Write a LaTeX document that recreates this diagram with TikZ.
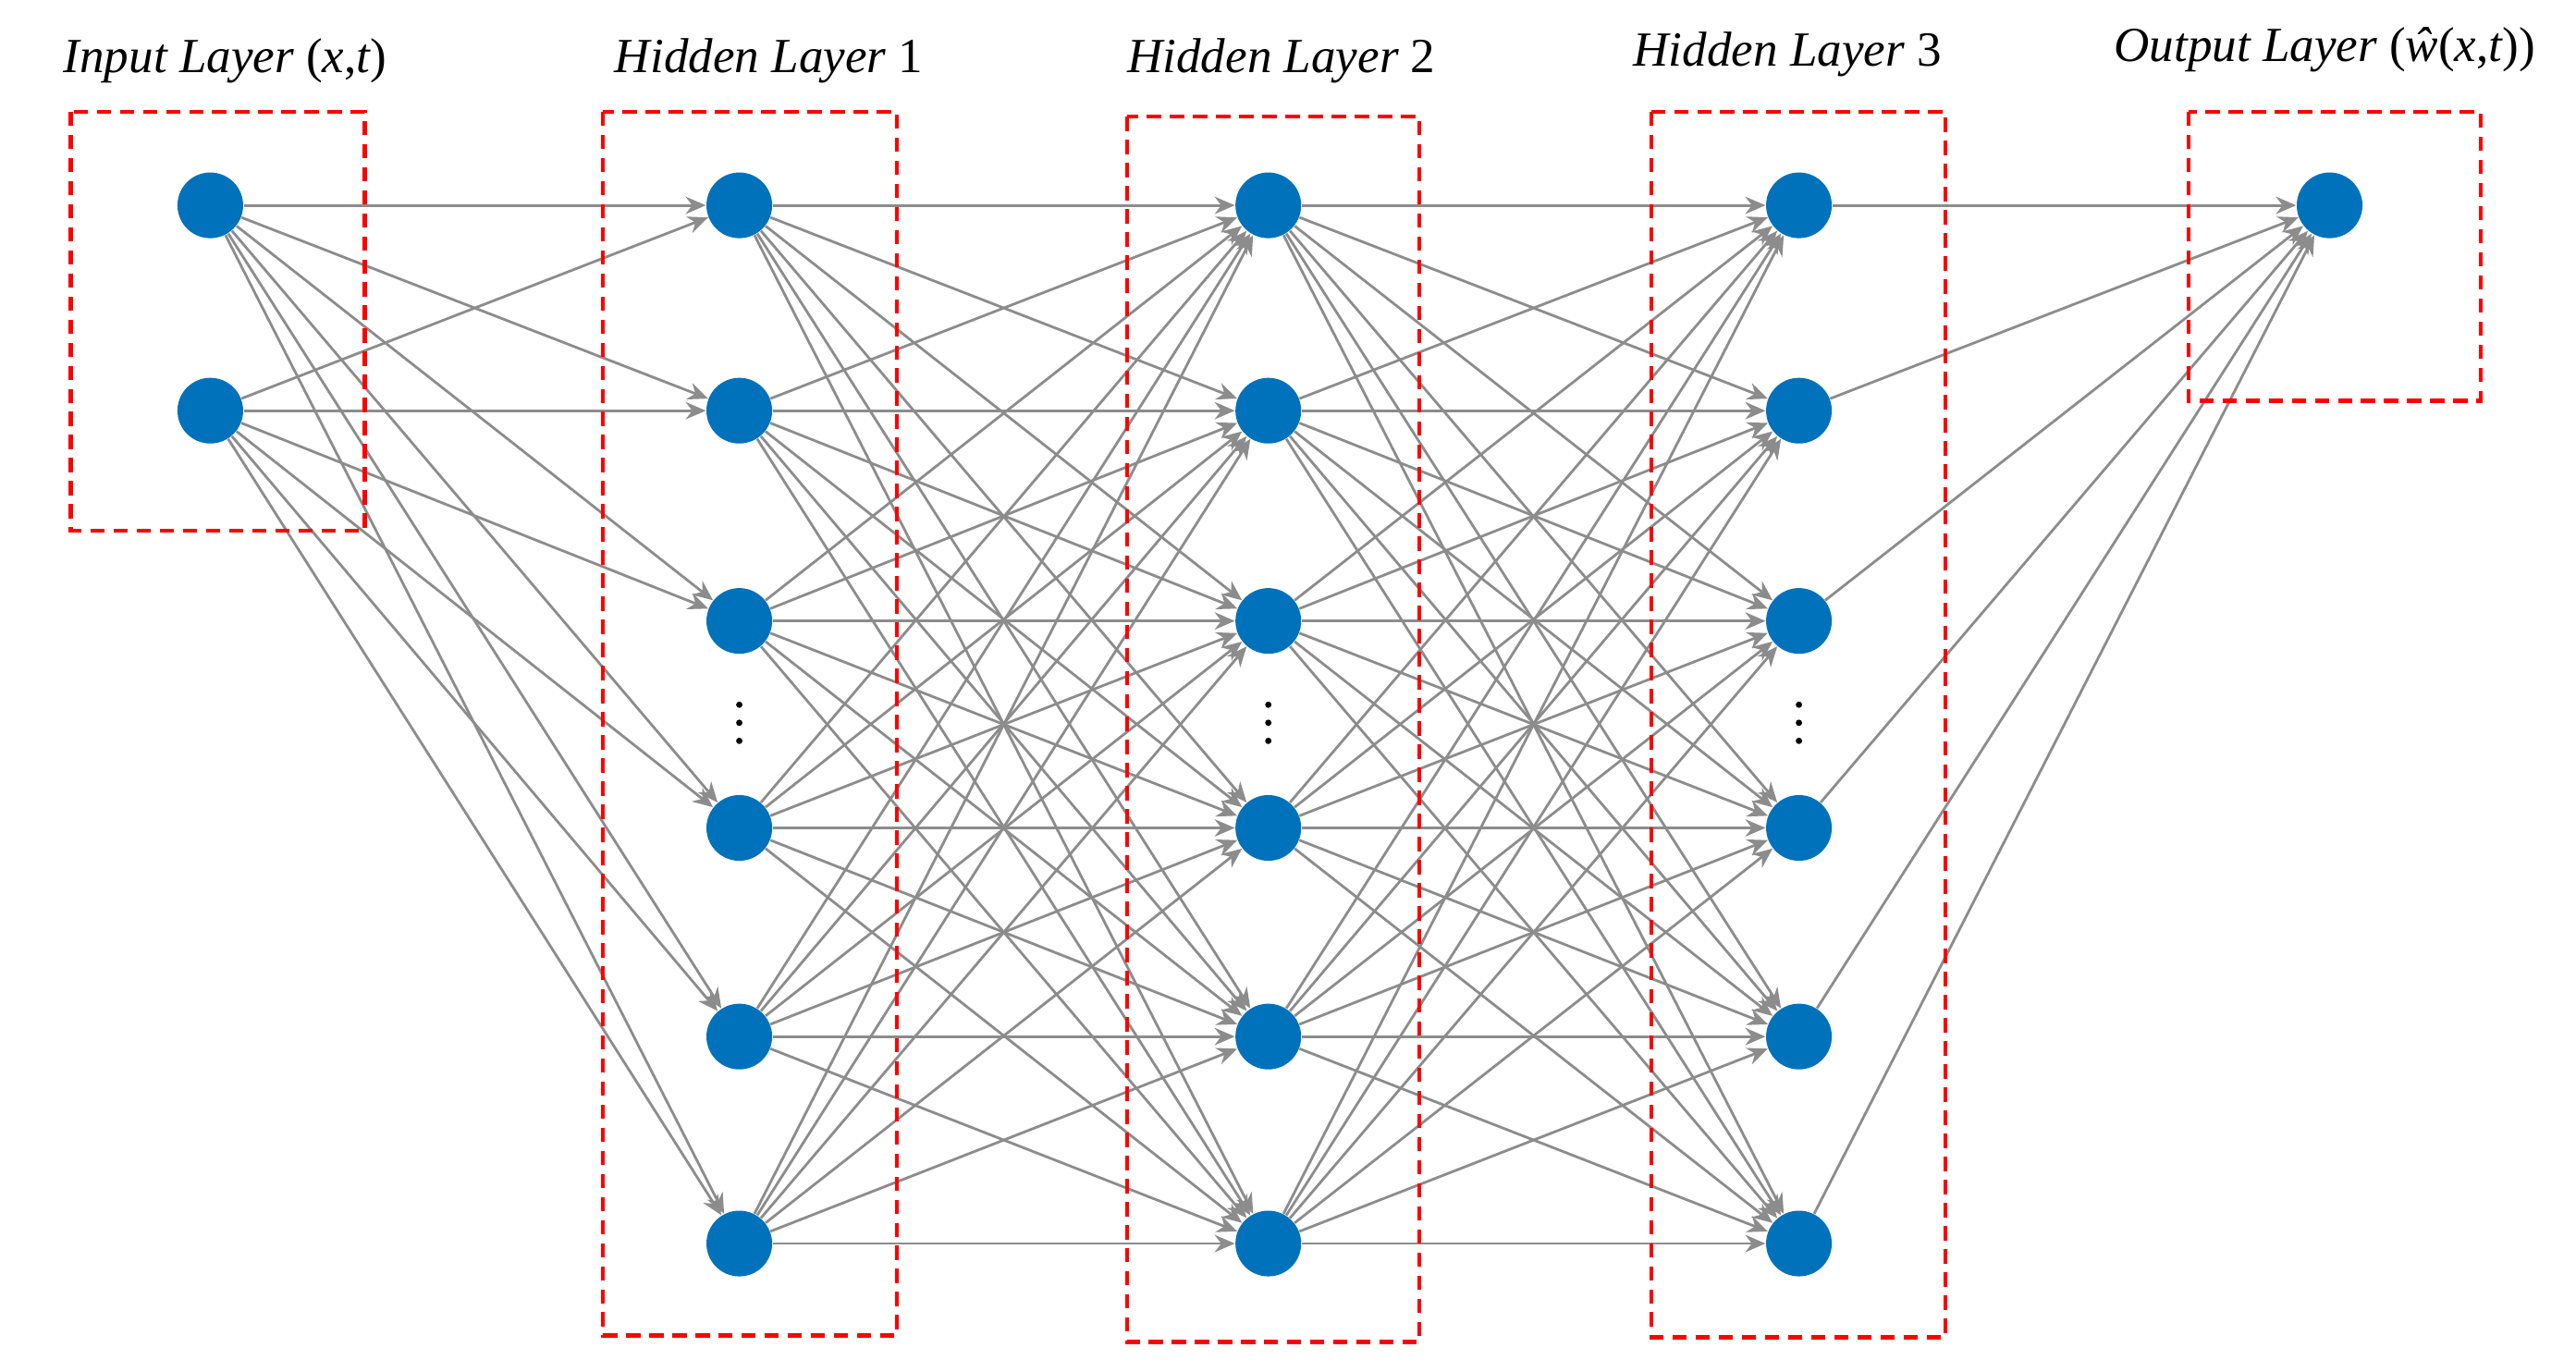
\documentclass[tikz,border=0pt]{standalone}
\usepackage{fontspec}
\setmainfont{Liberation Serif}[ItalicFont={Liberation Serif Italic},BoldFont={Liberation Serif Bold}]
\usetikzlibrary{arrows.meta}
\begin{document}
\begin{tikzpicture}[x=0.02cm,y=-0.02cm,
  neuron/.style={circle,fill={rgb,255:red,0;green,114;blue,187},minimum size=0.8cm,inner sep=0pt},
  conn/.style={draw={rgb,255:red,140;green,140;blue,140},line width=0.9pt,-{Stealth[length=7pt,width=6pt]}},
  box/.style={draw=red,dashed,line width=1.4pt,dash pattern=on 5pt off 3pt},
  lab/.style={font=\fontsize{17}{20}\selectfont\itshape}]
\useasboundingbox (0,0) rectangle (1568,835);
\def\ys{125,250,378,504,631,757}
\node[neuron] (i1) at (128,125) {};
\node[neuron] (i2) at (128,250) {};
\foreach \l/\x in {a/450,b/772,c/1095}{
  \foreach \y [count=\k] in \ys { \node[neuron] (\l\k) at (\x,\y) {}; }
}
\node[neuron] (o1) at (1418,125) {};
\foreach \i in {1,2}{\foreach \j in {1,...,6}{\draw[conn] (i\i) -- (a\j);}}
\foreach \i in {1,...,6}{\foreach \j in {1,...,6}{\draw[conn] (a\i) -- (b\j); \draw[conn] (b\i) -- (c\j);}}
\foreach \i in {1,...,6}{\draw[conn] (c\i) -- (o1);}
\foreach \x in {450,772,1095}{\foreach \d in {429,440,451}{\fill (\x,\d) circle (1.1pt);}}
\draw[box] (43,68) rectangle (222,323);
\draw[box] (367,68) rectangle (546,813);
\draw[box] (686,71) rectangle (864,817);
\draw[box] (1005,68) rectangle (1184,814);
\draw[box] (1332,68) rectangle (1510,244);
\node[lab] (l0) at (137,37) {Input Layer \upshape(\itshape x\upshape,\itshape t\upshape)};
\node[lab] (l1) at (468,37) {Hidden Layer \upshape 1};
\node[lab] (l2) at (780,37) {Hidden Layer \upshape 2};
\node[lab] (l3) at (1088,33) {Hidden Layer \upshape 3};
\node[lab] (l4) at (1415,30) {Output Layer \upshape(\itshape\^{w}\upshape(\itshape x\upshape,\itshape t\upshape))};
\end{tikzpicture}
\end{document}
